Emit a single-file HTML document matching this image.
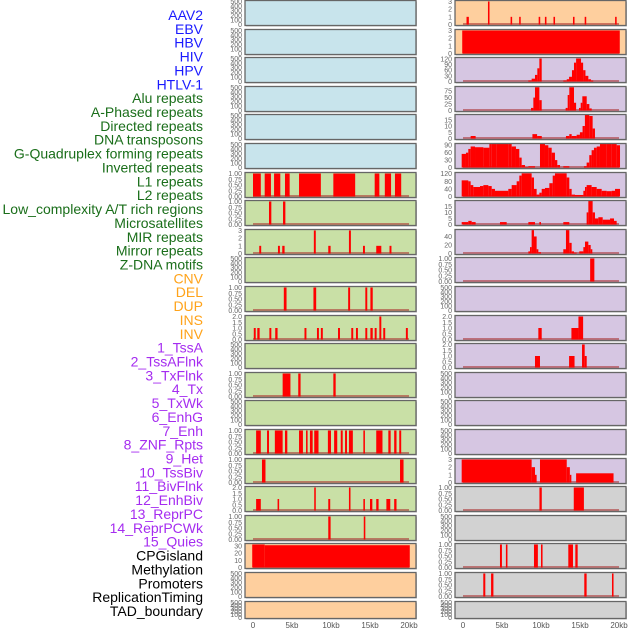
<!DOCTYPE html>
<html><head><meta charset="utf-8"><style>
html,body{margin:0;padding:0;background:#fff;}
svg{display:block;font-family:"Liberation Sans",sans-serif;}
</style></head><body>
<svg id="chart" width="630" height="630" viewBox="0 0 630 630" xmlns="http://www.w3.org/2000/svg"></svg>
<script>
// ---------- labels ----------
const trackLabels = ["AAV2","EBV","HBV","HIV","HPV","HTLV-1","Alu repeats","A-Phased repeats","Directed repeats","DNA transposons","G-Quadruplex forming repeats","Inverted repeats","L1 repeats","L2 repeats","Low_complexity A/T rich regions","Microsatellites","MIR repeats","Mirror repeats","Z-DNA motifs","CNV","DEL","DUP","INS","INV","1_TssA","2_TssAFlnk","3_TxFlnk","4_Tx","5_TxWk","6_EnhG","7_Enh","8_ZNF_Rpts","9_Het","10_TssBiv","11_BivFlnk","12_EnhBiv","13_ReprPC","14_ReprPCWk","15_Quies","CPGisland","Methylation","Promoters","ReplicationTiming","TAD_boundary"];
const labelGroups = [6,13,5,15,5];
const groupColors = ["#1a1aff","#1a6e1a","#ffa31a","#a52cf0","#000000"];
const xTickValues = [0,5,10,15,20];
const xTickLabels = ["0","5kb","10kb","15kb","20kb"];

// ---------- data: [startKb, endKb, value] ----------
const aav2Right = [[0.45,0.75,1],[3.2,3.4,3],[6.1,6.3,1],[7.2,7.4,1],[9.7,9.9,1],[10.5,10.7,1],[11.6,11.8,1],[14.1,14.3,1],[15.6,15.8,1],[19.5,19.7,1]];
const hbvRight = [[-0.1,20.1,3]];
const hpvRight = [[8.37,8.8,5],[8.8,9.23,15],[9.23,9.53,35],[9.53,9.79,70],[9.79,10.09,122],[12.86,13.3,5],[13.3,13.6,12],[13.6,13.97,25],[13.97,14.23,60],[14.23,14.5,100],[14.5,15.13,122],[15.13,15.4,100],[15.4,15.7,60],[15.7,16.07,30],[16.07,16.4,12],[16.4,16.7,5]];
const aluRight = [[8.72,9.02,10],[9.02,9.23,50],[9.23,9.79,90],[9.79,10.09,40],[13.16,13.42,10],[13.42,13.63,60],[13.63,14.23,90],[14.23,14.5,30],[14.87,15.09,10],[15.09,15.3,30],[15.3,15.86,55],[15.86,16.2,25],[16.2,16.5,8]];
const directedRight = [[0.98,1.62,2],[8.9,9.5,3.5],[9.5,10.1,2],[13.2,13.63,2],[13.63,13.93,3.5],[13.93,14.57,2],[14.57,14.99,3],[14.99,15.33,5],[15.33,15.63,10],[15.63,16.19,19],[16.19,16.62,18],[16.62,16.92,8]];
const gquadRight = [[-0.17,0.38,55],[0.38,0.68,60],[0.68,0.98,75],[0.98,1.54,85],[1.54,2.61,82],[2.61,3.38,80],[3.38,3.68,95],[3.68,4.32,100],[4.32,5.81,102],[5.81,6.24,95],[6.24,6.79,85],[6.79,7.22,75],[7.22,7.52,40],[7.52,7.95,10],[7.95,8.38,2],[8.38,9.23,5],[9.87,10.51,100],[10.51,10.94,90],[10.94,11.37,80],[11.37,11.79,60],[11.79,12.09,30],[12.09,12.44,10],[12.86,13.63,5],[15.51,15.85,5],[15.85,16.19,20],[16.19,16.49,50],[16.49,16.79,70],[16.79,17.14,80],[17.14,17.56,85],[17.56,18.42,100],[18.42,19.06,98],[19.06,19.7,95],[19.7,20.13,90]];
const l1Right = [[-0.17,0.68,85],[0.68,0.98,80],[0.98,1.32,60],[1.32,2.18,50],[2.18,2.61,55],[2.61,3.25,60],[3.25,3.68,55],[3.68,4.1,40],[4.1,5.81,30],[5.81,6.24,40],[6.24,6.88,60],[6.88,7.22,80],[7.22,7.52,110],[7.52,8.8,122],[8.8,9.1,100],[9.1,9.44,40],[9.44,9.79,10],[9.79,10.09,20],[10.09,10.51,40],[10.51,11.07,45],[11.07,11.5,70],[11.5,11.79,110],[11.79,13.29,122],[13.29,13.63,100],[13.63,13.93,40],[13.93,14.36,10],[14.36,15.43,8],[15.43,15.64,30],[15.64,15.85,50],[15.85,16.49,60],[16.49,17.14,50],[17.14,17.78,40],[17.78,18.42,30],[18.42,19.06,28],[19.06,19.49,30],[19.49,20.13,40]];
const microRight = [[-0.17,0.68,2],[0.68,1.11,3],[1.11,1.62,2],[4.74,5.6,2],[8.38,9.23,2],[9.79,10.0,2],[12.86,13.63,2],[15.85,16.07,10],[16.07,16.62,20],[16.62,16.92,10],[16.92,17.35,5],[17.35,17.91,6],[17.91,18.85,4],[18.85,19.36,5],[19.36,19.7,3]];
const mirRight = [[8.38,8.59,5],[8.59,8.8,15],[8.8,9.1,55],[9.1,9.44,40],[9.44,9.66,10],[9.66,10.0,3],[12.86,13.2,10],[13.2,13.63,55],[13.63,13.93,25],[13.93,14.23,5],[14.23,14.57,2],[14.91,15.43,5],[15.43,15.64,15],[15.64,16.07,28],[16.07,16.37,20],[16.37,16.58,10]];
const zdnaRight = [[16.3,16.84,1]];
const insRight = [[9.66,10.09,1],[13.9,14.8,1],[14.8,15.4,2]];
const tssaRight = [[9.23,9.87,1],[13.6,14.3,1],[15.26,15.6,2],[15.6,15.86,1]];
const hetRight = [[-0.17,8.8,3],[8.8,9.23,2],[9.23,9.44,1],[9.87,13.3,3],[13.3,13.7,2],[13.7,13.85,1],[14.5,19.3,1.2]];
const bivRight = [[9.8,10.1,1],[14.2,15.5,1]];
const cpgRight = [[4.74,4.99,1],[5.5,5.7,1],[9.1,9.6,1],[10.0,10.2,1],[13.5,14.1,1],[14.4,14.7,1]];
const promRight = [[2.6,2.86,1],[3.6,3.9,1],[15.55,15.85,1],[19.1,19.3,1]];

const l1Left = [[0,1.0,1],[1.5,2.3,1],[2.7,3.5,1],[4.1,4.7,1],[5.9,8.7,1],[10.3,13.1,1],[15.6,16.2,1],[16.9,17.7,1],[18.2,19.0,1]];
const lowLeft = [[2.05,2.35,1],[3.85,4.15,1]];
const mirLeft = [[0.8,1.05,1],[3.2,3.45,1],[3.75,4.05,1],[7.8,8.05,3],[9.65,9.95,1],[12.3,12.55,3],[14.1,14.35,1],[15.8,16.45,1],[17.5,17.75,1]];
const delLeft = [[3.95,4.3,1],[7.75,8.1,1],[12.2,12.45,1],[14.4,14.65,1],[15.05,15.35,1]];
const insLeft = [[0.1,0.35,1],[0.55,0.85,1],[2.1,2.35,1],[2.85,3.15,1],[6.6,6.85,1],[8.2,8.45,1],[8.7,8.95,1],[10.9,11.15,1],[12.6,12.85,1],[13.2,13.45,1],[14.4,14.65,1],[15.05,15.35,1],[15.6,15.85,1],[16.2,16.45,2],[16.7,16.95,1],[19.6,19.85,1]];
const txflnkLeft = [[3.8,4.8,1],[5.8,6.1,1],[10.3,10.6,1]];
const enhLeft = [[0.4,1.0,1],[1.8,2.05,1],[2.8,3.8,1],[4.1,4.4,1],[5.9,6.4,1],[6.8,7.0,1],[7.3,7.65,1],[7.85,8.4,1],[9.6,10.0,1],[10.4,10.8,1],[11.25,11.5,1],[11.8,12.05,1],[12.3,12.8,1],[14.15,14.35,1],[15.8,16.6,1],[17.35,17.65,1],[18.1,18.4,1],[18.75,19.0,1]];
const hetLeft = [[1.15,1.6,1],[18.85,19.3,1]];
const bivLeft = [[0.4,1.0,1],[3.15,3.35,1],[7.85,8.05,2],[9.65,9.9,1],[12.3,12.5,2],[14.15,14.35,1],[15.0,15.3,1],[15.8,16.1,1],[17.1,17.6,1],[18.1,18.4,1]];
const reprLeft = [[9.65,9.95,1],[14.2,14.4,1]];
const cpgLeft = [[-0.1,1.5,32],[1.5,20.1,31]];

// ---------- tick sets ----------
const ticks500 = [0,100,200,300,400,500];
const ticks1 = [0,0.25,0.5,0.75,1];
const ticks2 = [0,0.5,1,1.5,2];
const ticks3 = [0,1,2,3];

const BLUE="#c8e4ec", GREEN="#c9e0a6", ORANGE="#fecf9e", PURPLE="#d6c6e2", GRAY="#d2d2d2";
const leftBg = [BLUE,BLUE,BLUE,BLUE,BLUE,BLUE,GREEN,GREEN,GREEN,GREEN,GREEN,GREEN,GREEN,GREEN,GREEN,GREEN,GREEN,GREEN,GREEN,ORANGE,ORANGE,ORANGE];
const rightBg = [ORANGE,ORANGE,PURPLE,PURPLE,PURPLE,PURPLE,PURPLE,PURPLE,PURPLE,PURPLE,PURPLE,PURPLE,PURPLE,PURPLE,PURPLE,PURPLE,PURPLE,GRAY,GRAY,GRAY,GRAY,GRAY];

// left panels: [data, ticks, ymax, decimals]
const leftPanels = [
 [null,ticks500,500,0],[null,ticks500,500,0],[null,ticks500,500,0],[null,ticks500,500,0],[null,ticks500,500,0],[null,ticks500,500,0],
 [l1Left,ticks1,1,2],[lowLeft,ticks1,1,2],[mirLeft,ticks3,3,0],[null,ticks500,500,0],[delLeft,ticks1,1,2],[insLeft,ticks2,2,1],
 [null,ticks500,500,0],[txflnkLeft,ticks1,1,2],[null,ticks500,500,0],[enhLeft,ticks1,1,2],[hetLeft,ticks1,1,2],[bivLeft,ticks2,2,1],
 [reprLeft,ticks1,1,2],[cpgLeft,[0,10,20,30],32,0],[null,ticks500,500,0],[null,ticks500,500,0]
];
const rightPanels = [
 [aav2Right,ticks3,3,0],[hbvRight,ticks3,3,0],[hpvRight,[0,30,60,90,120],122,0],[aluRight,[0,25,50,75],89,0],
 [directedRight,[0,5,10,15],18.4,0],[gquadRight,[0,30,60,90],93,0],[l1Right,[0,40,80,120],121,0],[microRight,[0,5,10,15],19,0],
 [mirRight,[0,20,40],54,0],[zdnaRight,ticks1,1,2],[null,ticks500,500,0],[insRight,ticks2,2,1],
 [tssaRight,ticks2,2,1],[null,ticks500,500,0],[null,ticks500,500,0],[null,ticks500,500,0],[hetRight,ticks3,3,0],[bivRight,ticks1,1,2],
 [null,ticks500,500,0],[cpgRight,ticks1,1,2],[promRight,ticks1,1,2],[null,ticks500,500,0]
];

const NS="http://www.w3.org/2000/svg";
const svg=document.getElementById('chart');
function mk(tag,attrs,parent){const e=document.createElementNS(NS,tag);for(const k in attrs)e.setAttribute(k,attrs[k]);(parent||svg).appendChild(e);return e;}

// labels
let li=0;
labelGroups.forEach((n,g)=>{for(let j=0;j<n;j++){
  const t=mk('text',{x:203,y:15+li*13.86,'text-anchor':'end','dominant-baseline':'central','font-size':14,fill:groupColors[g]});
  
  
  t.textContent=trackLabels[li];li++;}});

function xScale(col,kb){return (col===0?253:463)+kb*7.8;}
function rowTop(i){return Math.round(i*28.6)+0.5;}

function drawPanel(col,i,spec,bg){
  const [data,ticks,ymax,dec]=spec;
  const left=col===0?245:455, w=171;
  const top=rowTop(i), h=(i===21?17:25);
  const g=mk('g',{});
  
  
  mk('rect',{x:left+1,y:top+1,width:w,height:h,fill:'#999',opacity:0.6},g);
  mk('rect',{x:left,y:top,width:w,height:h,fill:bg},g);
  const y0=top+h-1, span=h-2;
  const yS=v=>y0-v/ymax*span;
  ticks.forEach(v=>{
    const t=mk('text',{x:left-3,y:yS(v)+2.5,'text-anchor':'end','font-size':7,fill:'#666'},g);
    
    
    t.textContent=v.toFixed(dec);
  });
  if(data){
    mk('rect',{x:xScale(col,0),y:y0-1.5,width:xScale(col,20)-xScale(col,0),height:2,fill:'rgba(170,40,40,0.55)'},g);
    data.forEach(d=>{
      const x1=xScale(col,d[0]),x2=xScale(col,d[1]);
      const yt=Math.max(top+0.5,yS(d[2]));
      const r=mk('rect',{x:x1,y:yt,width:Math.max(1.5,x2-x1),height:y0-yt,fill:'#ff0000'},g);
      
      
    });
  }
  mk('rect',{x:left,y:top,width:w,height:h,fill:'none',stroke:'#666','stroke-width':1.3},g);
}
leftPanels.forEach((p,i)=>drawPanel(0,i,p,leftBg[i]));
rightPanels.forEach((p,i)=>drawPanel(1,i,p,rightBg[i]));

// x axes
[0,1].forEach(col=>{xTickValues.forEach((v,k)=>{
  const t=mk('text',{x:xScale(col,v),y:628,'text-anchor':'middle','font-size':8,fill:'#555'});
  
  
  t.textContent=xTickLabels[k];});});
</script>
</body></html>
